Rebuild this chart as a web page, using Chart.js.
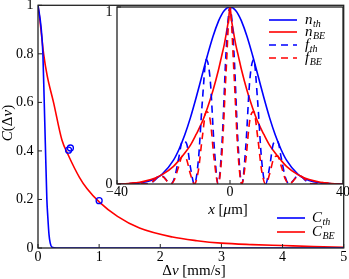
<!DOCTYPE html>
<html>
<head>
<meta charset="utf-8">
<script src="https://cdn.jsdelivr.net/npm/chart.js@4.4.0/dist/chart.umd.min.js"></script>
<style>
  html, body { margin: 0; padding: 0; background: #fff; }
  #wrap { position: relative; width: 349px; height: 279px; }
  #mainChart { position: absolute; left: 0; top: 0; }
  #insetChart { position: absolute; left: 95px; top: 0; }
</style>
</head>
<body>
<div id="wrap">
  <canvas id="mainChart" width="349" height="279"></canvas>
  <canvas id="insetChart" width="254" height="220"></canvas>
</div>
<script>
// main panel: C(dv) vs dv [mm/s]
const dvTh = [0, 0.05, 0.08, 0.10, 0.12, 0.145, 0.16, 0.18, 0.20, 0.23, 0.30, 1, 2, 3, 4, 5];
const cTh  = [1, 0.91, 0.80, 0.62, 0.43, 0.20, 0.13, 0.055, 0.02, 0.003, 0, 0, 0, 0, 0, 0];
const dvBE = [0, 0.026, 0.092, 0.15, 0.254, 0.39, 0.5, 0.68, 0.8, 1.0, 1.3, 1.66, 2.2, 2.6, 3, 3.5, 4, 4.5, 5];
const cBE  = [1, 0.95, 0.80, 0.71, 0.60, 0.446, 0.38, 0.29, 0.245, 0.19, 0.13, 0.082, 0.045, 0.03, 0.02, 0.014, 0.01, 0.006, 0.003];
const measDv = [0.50, 0.53, 1.00];
const measC  = [0.403, 0.412, 0.195];

const mainXTicks = [0, 1, 2, 3, 4, 5];
const mainXLabels = ['0', '1', '2', '3', '4', '5'];
const mainYTicks = [0, 0.2, 0.4, 0.6, 0.8, 1];
const mainYLabels = ['0', '0.2', '0.4', '0.6', '0.8', '1'];

// inset: density profiles vs x [um]
const solidX = [-40, -36, -32, -28, -24, -20, -18, -16, -14, -12, -10, -8, -6, -4, -3, -2, -1, -0.5, 0,
                0.5, 1, 2, 3, 4, 6, 8, 10, 12, 14, 16, 18, 20, 24, 28, 32, 36, 40];
const nTh = [0.0003, 0.0015, 0.006, 0.020, 0.056, 0.135, 0.198, 0.278, 0.375, 0.487, 0.607, 0.726, 0.835, 0.923, 0.956, 0.980, 0.995, 0.999, 1,
             0.999, 0.995, 0.980, 0.956, 0.923, 0.835, 0.726, 0.607, 0.487, 0.375, 0.278, 0.198, 0.135, 0.056, 0.020, 0.006, 0.0015, 0.0003];
const nBE = [0.001, 0.003, 0.010, 0.025, 0.053, 0.10, 0.135, 0.175, 0.22, 0.28, 0.345, 0.43, 0.53, 0.65, 0.72, 0.79, 0.88, 0.93, 1,
             0.93, 0.88, 0.79, 0.72, 0.65, 0.53, 0.43, 0.345, 0.28, 0.22, 0.175, 0.135, 0.10, 0.053, 0.025, 0.010, 0.003, 0.001];

const fringeX = [-40, -39.2, -37.8, -36.4, -35, -33.6, -32.2, -30.8, -29.4, -28, -26.6, -25.2, -23.8, -22.4, -21, -19.6,
                 -18.2, -16.8, -15.4, -14, -12.6, -11.2, -9.8, -8.4, -7, -5.6, -4.2, -2.8, -1.4, 0,
                 1.4, 2.8, 4.2, 5.6, 7, 8.4, 9.8, 11.2, 12.6, 14, 15.4, 16.8, 18.2, 19.6, 21, 22.4, 23.8,
                 25.2, 26.6, 28, 29.4, 30.8, 32.2, 33.6, 35, 36.4, 37.8, 39.2, 40];
const fTh = [0, 0.0001, 0, 0.0003, 0.0017, 0.0035, 0.004, 0.002, 0, 0.005, 0.022, 0.042, 0.044, 0.020, 0, 0.037,
             0.143, 0.244, 0.230, 0.094, 0, 0.134, 0.464, 0.703, 0.587, 0.214, 0, 0.241, 0.743, 1,
             0.743, 0.241, 0, 0.214, 0.587, 0.703, 0.464, 0.134, 0, 0.094, 0.230, 0.244, 0.143, 0.037, 0, 0.020, 0.044,
             0.042, 0.022, 0.005, 0, 0.002, 0.004, 0.0035, 0.0017, 0.0003, 0, 0.0001, 0];
const fBE = [0.0002, 0.0003, 0, 0.0008, 0.0034, 0.007, 0.0075, 0.003, 0, 0.006, 0.025, 0.043, 0.041, 0.018, 0, 0.027,
             0.098, 0.159, 0.141, 0.055, 0, 0.076, 0.265, 0.41, 0.36, 0.138, 0, 0.183, 0.63, 1,
             0.63, 0.183, 0, 0.138, 0.36, 0.41, 0.265, 0.076, 0, 0.055, 0.141, 0.159, 0.098, 0.027, 0, 0.018, 0.041,
             0.043, 0.025, 0.006, 0, 0.003, 0.0075, 0.007, 0.0034, 0.0008, 0, 0.0003, 0.0002];

const insetXTicks = [-40, 0, 40];
const insetXLabels = ['\u221240', '0', '40'];
const insetYTicks = [0, 1];
const insetYLabels = ['0', '1'];

const BLUE = '#0000ff';
const RED = '#ff0000';
const serif = '"Liberation Serif", "Times New Roman", serif';

function pts(xs, ys) {
    return xs.map(function (v, i) { return { x: v, y: ys[i] }; });
}

function curve(data, color, dash) {
    return {
        data: data,
        borderColor: color,
        borderWidth: 1.6,
        borderDash: dash || [],
        pointRadius: 0,
        fill: false,
        cubicInterpolationMode: 'monotone'
    };
}

// text made of upright ('n') and italic ('i') pieces, centred on (cx, cy)
function drawRich(ctx, segs, cx, cy, size, rotate) {
    ctx.save();
    ctx.translate(cx, cy);
    if (rotate) ctx.rotate(-Math.PI / 2);
    let total = 0;
    segs.forEach(function (s) {
        ctx.font = (s[1] === 'i' ? 'italic ' : '') + size + 'px ' + serif;
        total += ctx.measureText(s[0]).width;
    });
    let x = -total / 2;
    ctx.textAlign = 'left';
    ctx.textBaseline = 'middle';
    ctx.fillStyle = '#000';
    segs.forEach(function (s) {
        ctx.font = (s[1] === 'i' ? 'italic ' : '') + size + 'px ' + serif;
        ctx.fillText(s[0], x, 0);
        x += ctx.measureText(s[0]).width;
    });
    ctx.restore();
}

function legendItem(ctx, x0, x1, y, color, dash, main, sub, tx) {
    ctx.save();
    ctx.strokeStyle = color;
    ctx.lineWidth = 1.6;
    ctx.setLineDash(dash);
    ctx.beginPath();
    ctx.moveTo(x0, y);
    ctx.lineTo(x1, y);
    ctx.stroke();
    ctx.setLineDash([]);
    ctx.fillStyle = '#000';
    ctx.textAlign = 'left';
    ctx.textBaseline = 'alphabetic';
    ctx.font = 'italic 15px ' + serif;
    ctx.fillText(main, tx, y + 4);
    const w = ctx.measureText(main).width;
    ctx.font = 'italic 10px ' + serif;
    ctx.fillText(sub, tx + w + 0.5, y + 7);
    ctx.restore();
}

function frameTicks(chart, xt, xl, yt, yl, xLabOff, yLabOff, yLabShift) {
    const ctx = chart.ctx;
    const a = chart.chartArea;
    const sx = chart.scales.x;
    const sy = chart.scales.y;
    ctx.save();
    ctx.strokeStyle = '#222';
    ctx.lineWidth = 1.3;
    ctx.strokeRect(a.left, a.top, a.right - a.left, a.bottom - a.top);
    ctx.lineWidth = 1;
    ctx.fillStyle = '#000';
    ctx.font = '14px ' + serif;
    ctx.textAlign = 'center';
    ctx.textBaseline = 'middle';
    xt.forEach(function (v, i) {
        const px = sx.getPixelForValue(v);
        ctx.beginPath();
        ctx.moveTo(px, a.bottom);
        ctx.lineTo(px, a.bottom - 4);
        ctx.stroke();
        ctx.fillText(xl[i], px, a.bottom + xLabOff);
    });
    ctx.textAlign = 'right';
    yt.forEach(function (v, i) {
        const py = sy.getPixelForValue(v);
        ctx.beginPath();
        ctx.moveTo(a.left, py);
        ctx.lineTo(a.left + 4, py);
        ctx.stroke();
        ctx.fillText(yl[i], a.left - yLabOff, py + (yLabShift ? yLabShift[i] : 0));
    });
    ctx.restore();
}

const mainDecor = {
    id: 'mainDecor',
    afterDraw: function (chart) {
        const ctx = chart.ctx;
        frameTicks(chart, mainXTicks, mainXLabels, mainYTicks, mainYLabels, 9.5, 4.5, null);
        drawRich(ctx, [['\u0394', 'n'], ['v', 'i'], [' [mm/s]', 'n']], 194, 271, 15, false);
        drawRich(ctx, [['C', 'i'], ['(\u0394', 'n'], ['v', 'i'], [')', 'n']], 8, 123, 15, true);
        legendItem(ctx, 277, 305, 218, BLUE, [], 'C', 'th', 312);
        legendItem(ctx, 277, 305, 232, RED, [], 'C', 'BE', 312);
    }
};

const insetDecor = {
    id: 'insetDecor',
    beforeDraw: function (chart) {
        const a = chart.chartArea;
        chart.ctx.save();
        chart.ctx.fillStyle = '#fff';
        chart.ctx.fillRect(a.left, a.top, a.right - a.left, a.bottom - a.top);
        chart.ctx.restore();
    },
    afterDraw: function (chart) {
        const ctx = chart.ctx;
        frameTicks(chart, insetXTicks, insetXLabels, insetYTicks, insetYLabels, 8.5, 4.5, [0, 5]);
        drawRich(ctx, [['x', 'i'], [' [', 'n'], ['\u03bc', 'i'], ['m]', 'n']], 133, 210, 15, false);
        legendItem(ctx, 174, 202, 20, BLUE, [], 'n', 'th', 210);
        legendItem(ctx, 174, 202, 32, RED, [], 'n', 'BE', 210);
        legendItem(ctx, 174, 202, 45, BLUE, [7, 5], 'f', 'th', 210);
        legendItem(ctx, 174, 202, 58, RED, [7, 5], 'f', 'BE', 210);
    }
};

new Chart(document.getElementById('mainChart').getContext('2d'), {
    type: 'line',
    data: {
        datasets: [
            {
                data: pts(measDv, measC),
                showLine: false,
                pointRadius: 3,
                pointBorderWidth: 1.3,
                pointBorderColor: BLUE,
                pointBackgroundColor: 'rgba(0,0,0,0)'
            },
            curve(pts(dvTh, cTh), BLUE),
            curve(pts(dvBE, cBE), RED)
        ]
    },
    options: {
        responsive: false,
        animation: false,
        layout: { padding: { left: 38, top: 5, right: 2, bottom: 31 } },
        plugins: { legend: { display: false }, tooltip: { enabled: false } },
        scales: {
            x: { type: 'linear', min: 0, max: 5, display: false },
            y: { type: 'linear', min: 0, max: 1, display: false }
        }
    },
    plugins: [mainDecor]
});

new Chart(document.getElementById('insetChart').getContext('2d'), {
    type: 'line',
    data: {
        datasets: [
            curve(pts(fringeX, fBE), RED, [7, 5]),
            curve(pts(fringeX, fTh), BLUE, [7, 5]),
            curve(pts(solidX, nBE), RED),
            curve(pts(solidX, nTh), BLUE)
        ]
    },
    options: {
        responsive: false,
        animation: false,
        layout: { padding: { left: 22, top: 7, right: 6, bottom: 36 } },
        plugins: { legend: { display: false }, tooltip: { enabled: false } },
        scales: {
            x: { type: 'linear', min: -40, max: 40, display: false },
            y: { type: 'linear', min: 0, max: 1, display: false }
        }
    },
    plugins: [insetDecor]
});
</script>
</body>
</html>
